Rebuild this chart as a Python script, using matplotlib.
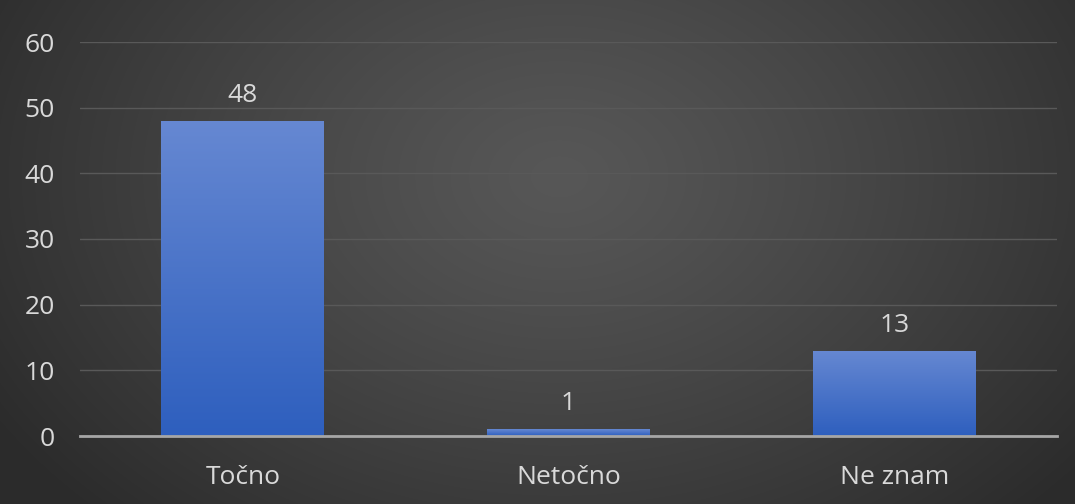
import numpy as np
import matplotlib
matplotlib.use("Agg")
import matplotlib.pyplot as plt
from matplotlib.colors import LinearSegmentedColormap

categories = ["Točno", "Netočno", "Ne znam"]
values = [48, 1, 13]
yticks = [0, 10, 20, 30, 40, 50, 60]

plt.rcParams['font.family'] = ['Open Sans', 'DejaVu Sans']

fig = plt.figure(figsize=(10.75, 5.04), dpi=100)

# radial background
bg = fig.add_axes([0, 0, 1, 1], zorder=-10)
bg.set_axis_off()
H, W = 504, 1075
yy, xx = np.mgrid[0:H, 0:W]
cx, cy = W * 0.52, H * 0.35
r = np.sqrt(((xx - cx) / (W * 0.62)) ** 2 + ((yy - cy) / (H * 0.95)) ** 2)
r = np.clip(r, 0, 1)
inner, outer = 0x57 / 255, 0x2b / 255
v = inner + (outer - inner) * r ** 1.2
img = np.dstack([v, v, v])
bg.imshow(img, extent=[0, 1, 0, 1], aspect='auto', origin='upper')
bg.set_xlim(0, 1)
bg.set_ylim(0, 1)

ax = fig.add_axes([80 / 1075, 1 - 436 / 504, 977 / 1075, 394 / 504])
ax.set_facecolor('none')
x = np.arange(len(categories))
bars = ax.bar(x, values, width=0.5, color='#4a75cc', zorder=3)

cmap = LinearSegmentedColormap.from_list('g', ['#2e5fbe', '#6688d2'])
grad = np.linspace(0, 1, 256).reshape(-1, 1)
for b in bars:
    x0, y0 = b.get_x(), b.get_y()
    w, h = b.get_width(), b.get_height()
    im = ax.imshow(grad, extent=[x0, x0 + w, y0, y0 + h], origin='lower',
                   cmap=cmap, aspect='auto', zorder=4)
    im.set_clip_path(b)
    ax.text(x0 + w / 2, h + 2.0, str(int(h)), ha='center', va='bottom',
            fontsize=19, color='#d9d9d9', zorder=5)

ax.set_xlim(-0.5, len(categories) - 0.5)
ax.set_ylim(0, 60)
ax.set_yticks(yticks)
ax.set_yticklabels([str(t) for t in yticks])
ax.set_xticks(x)
ax.set_xticklabels(categories)
ax.tick_params(axis='y', length=0, pad=18, labelsize=19, labelcolor='#d9d9d9')
ax.tick_params(axis='x', length=0, pad=21, labelsize=19, labelcolor='#d9d9d9')
ax.grid(axis='y', color='#595959', linewidth=1, zorder=0)
ax.set_axisbelow(True)
for s in ['top', 'right', 'left']:
    ax.spines[s].set_visible(False)
ax.spines['bottom'].set_color('#a6a6a6')
ax.spines['bottom'].set_linewidth(2)
ax.spines['bottom'].set_zorder(6)

fig.savefig('out.png', dpi=100)
